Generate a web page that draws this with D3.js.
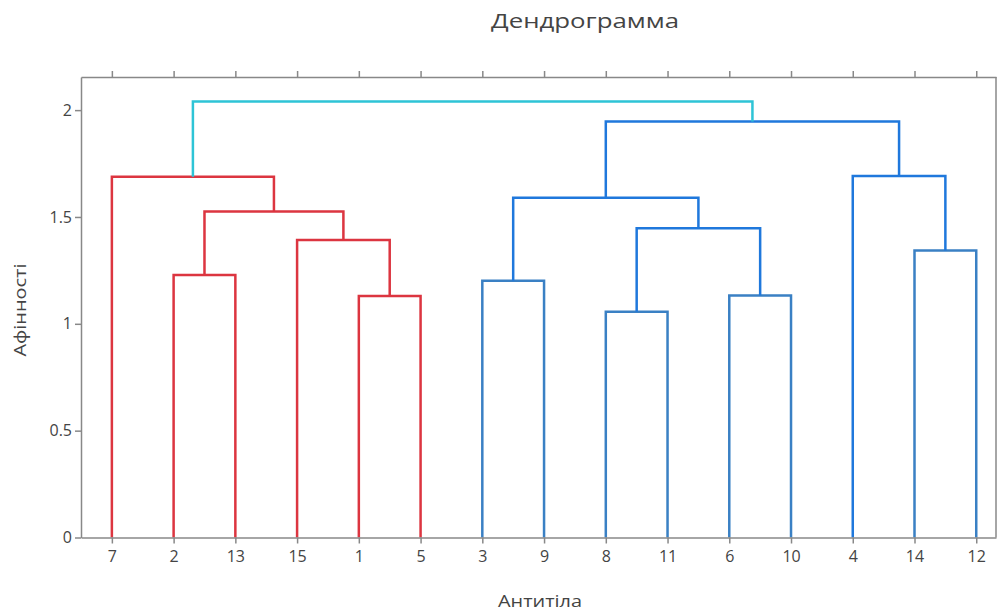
<!DOCTYPE html>
<html>
<head>
<meta charset="utf-8">
<script src="https://cdn.jsdelivr.net/npm/d3@7"></script>
<style>
  body { margin: 0; background: #fff; }
  svg { display: block; }
  text { font-family: "Open Sans", "Noto Sans", sans-serif; fill: #444; }
</style>
</head>
<body>
<svg id="chart" width="998" height="614"></svg>
<script>
// Leaf order (antibodies) along the x axis
const leaves = ["7","2","13","15","1","5","3","9","8","11","6","10","4","14","12"];

// Merges: children (leaf label or "m#"), merge height (affinity)
const mergeIds     = ["m0","m1","m2","m3","m4","m5","m6","m7","m8","m9","m10","m11","m12","m13"];
const mergeLeft    = ["1","15","2","m2","7","3","8","6","m6","m5","14","4","m9","m4"];
const mergeRight   = ["5","m0","13","m1","m3","9","11","10","m7","m8","12","m10","m11","m12"];
const mergeHeight  = [1.13,1.392,1.228,1.525,1.688,1.202,1.057,1.133,1.447,1.590,1.343,1.692,1.947,2.04];
const mergeGroup   = ["red","red","red","red","red","blue2","blue2","blue2","blue","blue","blue2","blue","blue","cyan"];

const groupColors = { red: "#dc3540", blue: "#1f78dc", blue2: "#3a80c4", cyan: "#2ec4d6" };

const yTicks = [0, 0.5, 1, 1.5, 2];

const svg = d3.select("#chart");
const mLeft = 81, mRight = 996, mTop = 77, mBottom = 537.5;

const x = d3.scaleLinear().domain([0, 148.2]).range([mLeft, mRight]);
const y = d3.scaleLinear().domain([0, 2.155]).range([mBottom, mTop]);

// positions
const pos = {};
leaves.forEach((l, i) => { pos[l] = { x: 5 + 10 * i, h: 0 }; });
mergeIds.forEach((id, i) => {
  const a = pos[mergeLeft[i]], b = pos[mergeRight[i]];
  pos[id] = { x: (a.x + b.x) / 2, h: mergeHeight[i] };
});

const g = svg.append("g");
const axisColor = "#888";

// links
mergeIds.forEach((id, i) => {
  const a = pos[mergeLeft[i]], b = pos[mergeRight[i]], h = mergeHeight[i];
  const path = d3.path();
  path.moveTo(x(a.x), y(a.h));
  path.lineTo(x(a.x), y(h));
  path.lineTo(x(b.x), y(h));
  path.lineTo(x(b.x), y(b.h));
  g.append("path").attr("d", path.toString())
    .attr("fill", "none")
    .attr("stroke", groupColors[mergeGroup[i]])
    .attr("stroke-width", 2.5)
    .attr("stroke-linejoin", "miter");
});

// bottom axis
const xAxis = d3.axisBottom(x)
  .tickValues(leaves.map((l, i) => 5 + 10 * i))
  .tickFormat((d, i) => leaves[i])
  .tickSize(6).tickSizeOuter(0).tickPadding(7);
const gx = svg.append("g").attr("transform", `translate(0,${mBottom})`).call(xAxis);
gx.select(".domain").attr("stroke", axisColor).attr("stroke-width", 1.5);
gx.selectAll(".tick line").attr("stroke", axisColor).attr("stroke-width", 1.5);
gx.selectAll(".tick text").attr("font-size", 16).attr("fill", "#444")
  .attr("font-family", "'Open Sans', sans-serif");

// top mirrored ticks
const xTop = d3.axisTop(x)
  .tickValues(leaves.map((l, i) => 5 + 10 * i))
  .tickFormat("")
  .tickSize(6).tickSizeOuter(0);
const gxt = svg.append("g").attr("transform", `translate(0,${mTop})`).call(xTop);
gxt.select(".domain").attr("stroke", axisColor).attr("stroke-width", 1.5);
gxt.selectAll(".tick line").attr("stroke", axisColor).attr("stroke-width", 1.5);

// left axis
const yAxis = d3.axisLeft(y).tickValues(yTicks)
  .tickFormat(d => String(d)).tickSize(6).tickSizeOuter(0).tickPadding(3);
const gy = svg.append("g").attr("transform", `translate(${mLeft},0)`).call(yAxis);
gy.select(".domain").attr("stroke", axisColor).attr("stroke-width", 1.5);
gy.selectAll(".tick line").attr("stroke", axisColor).attr("stroke-width", 1.5);
gy.selectAll(".tick text").attr("font-size", 16).attr("fill", "#444")
  .attr("font-family", "'Open Sans', sans-serif");

// right border
svg.append("line").attr("x1", mRight).attr("x2", mRight).attr("y1", mTop).attr("y2", mBottom)
  .attr("stroke", axisColor).attr("stroke-width", 1.5);

// titles
svg.append("text").attr("x", 585).attr("y", 28).attr("text-anchor", "middle")
  .attr("font-size", 20).attr("textLength", 188).attr("lengthAdjust", "spacingAndGlyphs")
  .text("Дендрограмма");
svg.append("text").attr("x", 540).attr("y", 607).attr("text-anchor", "middle")
  .attr("font-size", 17).attr("textLength", 84).attr("lengthAdjust", "spacingAndGlyphs")
  .text("Антитіла");
svg.append("text").attr("transform", "translate(26,310) rotate(-90)")
  .attr("text-anchor", "middle").attr("font-size", 16)
  .attr("textLength", 93).attr("lengthAdjust", "spacingAndGlyphs")
  .text("Афінності");
</script>
</body>
</html>
